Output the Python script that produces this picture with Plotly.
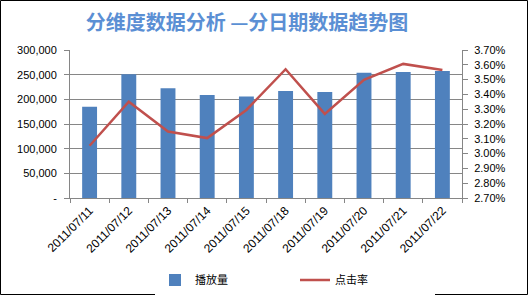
import plotly.graph_objects as go

dates = ["2011/07/11", "2011/07/12", "2011/07/13", "2011/07/14", "2011/07/15",
         "2011/07/18", "2011/07/19", "2011/07/20", "2011/07/21", "2011/07/22"]
plays = [185000, 251000, 222500, 209000, 205500, 217000, 215000, 254000, 255500, 257500]
ctr = [0.03053, 0.03351, 0.03149, 0.03105, 0.03295, 0.03570, 0.03268, 0.03498, 0.03606, 0.03565]

left_vals = [0, 50000, 100000, 150000, 200000, 250000, 300000]
left_text = ["-", "50,000", "100,000", "150,000", "200,000", "250,000", "300,000"]
right_vals = [0.027 + 0.001 * i for i in range(11)]

W, H = 529, 296
ML, MR, MT, MB = 70, 67, 50, 98

fig = go.Figure()
fig.add_trace(go.Bar(x=dates, y=plays, name="播放量", marker_color="#4F81BD",
                     marker_line_width=0, width=0.38, yaxis="y"))
fig.add_trace(go.Scatter(x=dates, y=ctr, name="点击率", mode="lines",
                         line=dict(color="#C0504D", width=2.5), yaxis="y2"))

tickfont = dict(family="Liberation Sans, Arial", size=11, color="#000000")
datefont = dict(family="Liberation Sans, Arial", size=12, color="#000000")
fig.update_layout(
    width=W, height=H,
    margin=dict(l=ML, r=MR, t=MT, b=MB, autoexpand=False),
    paper_bgcolor="white", plot_bgcolor="white",
    title=dict(text="<b>分维度数据分析 —分日期数据趋势图</b>",
               font=dict(family="Noto Sans CJK SC", size=20, color="#5B8FD4"),
               x=247 / W, xanchor="center", y=1 - 23 / H, yanchor="middle",
               xref="container", yref="container"),
    xaxis=dict(type="category", showgrid=False, ticks="outside", tickson="boundaries",
               ticklen=4, tickcolor="#868686", showline=True, linecolor="#868686",
               tickangle=-45, tickfont=datefont, automargin=False),
    yaxis=dict(range=[0, 300000], tickvals=left_vals, ticktext=left_text,
               showgrid=True, gridcolor="#868686", gridwidth=1, zeroline=False,
               showline=True, linecolor="#868686", ticks="outside", ticklen=5,
               tickcolor="#868686", tickfont=tickfont, ticklabelstandoff=5,
               automargin=False),
    yaxis2=dict(range=[0.027, 0.037], tickvals=right_vals, tickformat=".2%",
                overlaying="y", side="right", showgrid=False, zeroline=False,
                showline=True, linecolor="#868686", ticks="outside", ticklen=5,
                tickcolor="#868686", tickfont=tickfont, ticklabelstandoff=4,
                automargin=False),
    legend=dict(orientation="h", x=(155 - ML) / (W - ML - MR), xanchor="left",
                y=(MT + 148 - 280) / 148, yanchor="middle", entrywidth=95,
                itemwidth=30,
                font=dict(family="Noto Sans CJK SC", size=11, color="#000000")),
    showlegend=True,
    bargap=0.6,
    shapes=[dict(type="rect", xref="paper", yref="paper",
                 x0=-(ML - 0.5) / (W - ML - MR), x1=1 + (MR - 1.5) / (W - ML - MR),
                 y0=-(MB - 1.5) / (H - MT - MB), y1=1 + (MT - 0.5) / (H - MT - MB),
                 line=dict(color="#000000", width=1), layer="below")],
)

fig.write_html("out.html")
